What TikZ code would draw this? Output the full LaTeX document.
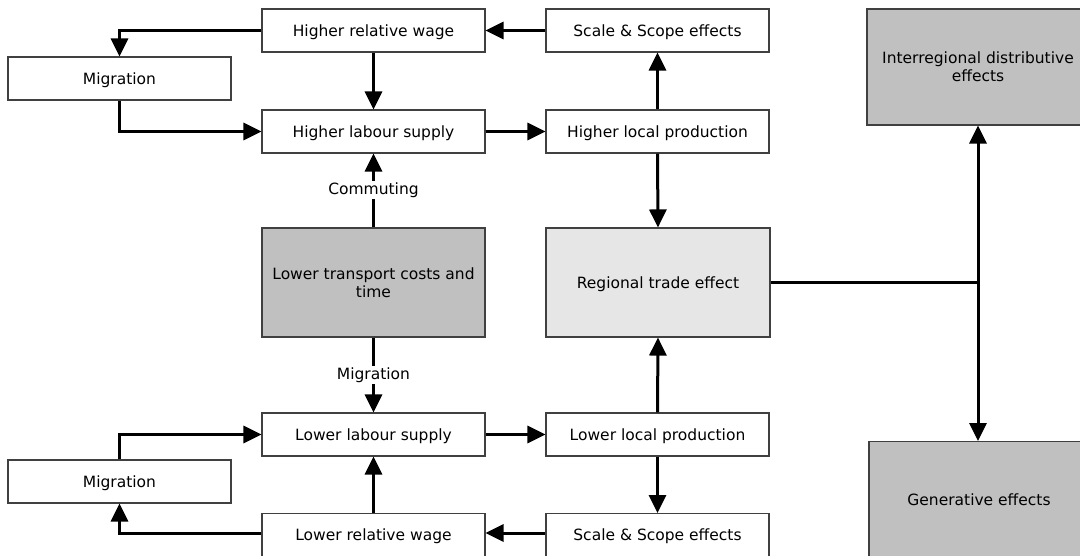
\documentclass[tikz,border=0pt]{standalone}
\usepackage{fontspec}
\setmainfont{DejaVu Sans}
\usetikzlibrary{arrows.meta}
\definecolor{boxgray}{HTML}{C0C0C0}
\definecolor{boxlight}{HTML}{E6E6E6}
\begin{document}
\begin{tikzpicture}[x=1bp,y=-1bp,
  font=\fontsize{15.5bp}{18bp}\selectfont,
  box/.style={draw=black!75, line width=1.1bp, fill=white, minimum width=223bp, minimum height=43bp, inner sep=0pt, align=center},
  single/.style={box, text depth=0pt},
  arr/.style={line width=3bp, -{Triangle[length=18bp,width=17bp]}},
  conn/.style={line width=3bp},
  lab/.style={fill=white, inner sep=1.5bp}]
\useasboundingbox (0,0) rectangle (1080,556);
% top half
\node[single] (hrw) at (373.5,30.5) {Higher relative wage};
\node[single] (ss1) at (657.5,30.5) {Scale \& Scope effects};
\node[single] (mig1) at (119.5,78.5) {Migration};
\node[single] (hls) at (373.5,131.5) {Higher labour supply};
\node[single] (hlp) at (657.5,131.5) {Higher local production};
% middle
\node[box, fill=boxgray, minimum height=109bp] (ltc) at (373.5,282.5) {Lower transport costs and\\time};
\node[single, fill=boxlight, minimum height=109bp, minimum width=224bp] (rte) at (658,282.5) {Regional trade effect};
% bottom half
\node[single] (lls) at (373.5,434.5) {Lower labour supply};
\node[single] (llp) at (657.5,434.5) {Lower local production};
\node[single] (mig2) at (119.5,481.5) {Migration};
\node[single, anchor=north, minimum height=50bp] (lrw) at (373.5,513) {\raisebox{7bp}{Lower relative wage}};
\node[single, anchor=north, minimum height=50bp] (ss2) at (657.5,513) {\raisebox{7bp}{Scale \& Scope effects}};
% right
\node[box, fill=boxgray, minimum width=222bp, minimum height=116bp] (ire) at (978,67) {Interregional distributive\\effects};
\node[single, fill=boxgray, anchor=north, minimum width=220bp, minimum height=130bp] (gen) at (979,441) {\raisebox{14bp}{Generative effects}};
% connectors top
\draw[arr] (ss1.west) -- (hrw.east);
\draw[arr] (hrw.west) -| (mig1.north);
\draw[arr] (hrw.south) -- (hls.north);
\draw[arr] (mig1.south) |- (hls.west);
\draw[arr] (hls.east) -- (hlp.west);
\draw[arr] (hlp.north) -- (ss1.south);
\draw[arr] (hlp.south) -- (rte.north);
\draw[arr] (ltc.north) -- node[lab] {Commuting} (hls.south);
% connectors bottom
\draw[arr] (ltc.south) -- node[lab, pos=0.5] {Migration} (lls.north);
\draw[arr] (llp.north) -- (rte.south);
\draw[arr] (lls.east) -- (llp.west);
\draw[arr] (llp.south) -- (ss2.north);
\draw[arr] (ss2.west |- 0,533) -- (lrw.east |- 0,533);
\draw[arr] (lrw.north) -- (lls.south);
\draw[arr] (lrw.west |- 0,533) -| (mig2.south);
\draw[arr] (mig2.north) |- (lls.west);
% right connectors
\coordinate (j) at (978,282.5);
\draw[conn] (rte.east) -- (j);
\draw[arr] (j) -- (ire.south);
\draw[arr] (j) -- (gen.north -| j);
\end{tikzpicture}
\end{document}
